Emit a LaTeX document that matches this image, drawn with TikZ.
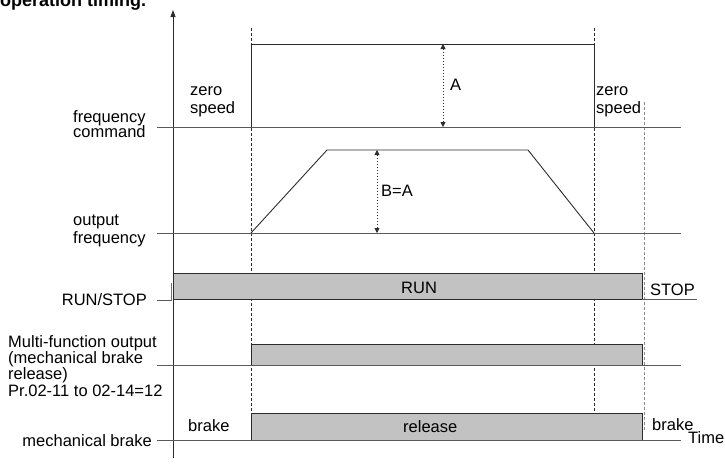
\documentclass[tikz,border=0pt]{standalone}
\usepackage{fontspec}
\setmainfont{Liberation Sans}
\usepackage{tikz}
\usetikzlibrary{arrows.meta}
\definecolor{sigdark}{HTML}{2B2B2B}
\definecolor{basegray}{HTML}{5A5A5A}
\definecolor{bargray}{HTML}{C2C2C2}

\begin{document}
\begin{tikzpicture}[x=1pt, y=-1pt, font=\fontsize{16.5}{18}\selectfont,
  sig/.style={draw=sigdark, line width=0.9pt},
  base/.style={draw=basegray, line width=0.9pt},
  bar/.style={fill=bargray, draw=sigdark, line width=0.9pt},
  guide/.style={draw=sigdark, dash pattern=on 3pt off 2pt, line width=0.8pt},
  dim/.style={draw=sigdark, dash pattern=on 1pt off 2pt, line width=0.8pt,
    {Triangle[length=5pt,width=5pt]}-{Triangle[length=5pt,width=5pt]}},
  lbl/.style={inner sep=0pt, align=left}]
\useasboundingbox (0,0) rectangle (725,463);

% title, cut off at the top edge
\node[lbl, anchor=base west, font=\bfseries\fontsize{18}{18}\selectfont] (title) at (0,6) {operation timing.};

% time axis and guide lines
\coordinate (axbot) at (173,458); \coordinate (axtop) at (173,10);
\draw[line width=0.9pt, draw=sigdark, -{Triangle[length=7pt,width=5pt]}] (axbot) -- (axtop);
\draw[guide] (251,28) -- (251,413);
\draw[guide] (594,28) -- (594,413);
\draw[guide, draw=black!45] (644,102) -- (644,430);

% frequency command
\draw[base] (157,127) -- (681,127);
\draw[sig] (251,127) |- (594,44) -- (594,127);
\coordinate (ahi) at (443,44); \coordinate (alo) at (443,127);
\draw[dim] (ahi) -- (alo);
\node[lbl, anchor=base west] (alab) at (450,90) {A};

% output frequency
\draw[base] (157,233) -- (681,233);
\draw[sig] (251,233) -- (327,150) -- (528,150) -- (594,233);
\coordinate (bhi) at (377,150); \coordinate (blo) at (377,233);
\draw[dim] (bhi) -- (blo);
\node[lbl, anchor=base west] (blab) at (381,196) {B=A};

% RUN/STOP
\draw[bar] (173,273) rectangle (642,299);
\draw[base] (157,300) -- (172,300);
\draw[draw=black!55, line width=1.5pt] (171.5,283) -- (171.5,300);
\draw[base] (642,299) -- (697,299);
\node[lbl, anchor=base west] (run) at (401,293) {RUN};
\node[lbl, anchor=base west] (stop) at (650,295) {STOP};

% multi-function output
\draw[bar] (251,344) rectangle (642,365);
\draw[base] (157,365) -- (681,365);

% mechanical brake
\draw[bar] (251,413) rectangle (642,440);
\draw[base] (157,440) -- (681,440);
\node[lbl, anchor=base west] (brk1) at (188,431) {brake};
\node[lbl, anchor=base west] (rel) at (403,432) {release};
\node[lbl, anchor=base west] (brk2) at (652,430) {brake};
\node[lbl, anchor=base west] (time) at (688,443) {Time};

% zero speed
\node[lbl, anchor=base west] (zs1) at (190,113) {zero\\speed};
\node[lbl, anchor=base west] (zs2) at (596,113) {zero\\speed};

% signal names
\node[lbl, anchor=base west] (fcmd) at (73,137) {frequency\\[-3pt]command};
\node[lbl, anchor=base west] (fout) at (73,243) {output\\frequency};
\node[lbl, anchor=base east] (rs) at (147,305) {RUN/STOP};
\node[lbl, anchor=base west] (mfo) at (8,396) {Multi-function output\\[-1.7pt](mechanical brake\\[-1.7pt]release)\\[-1.7pt]Pr.02-11 to 02-14=12};
\node[lbl, anchor=base east] (mb) at (152,446) {mechanical brake};
\end{tikzpicture}
\end{document}
